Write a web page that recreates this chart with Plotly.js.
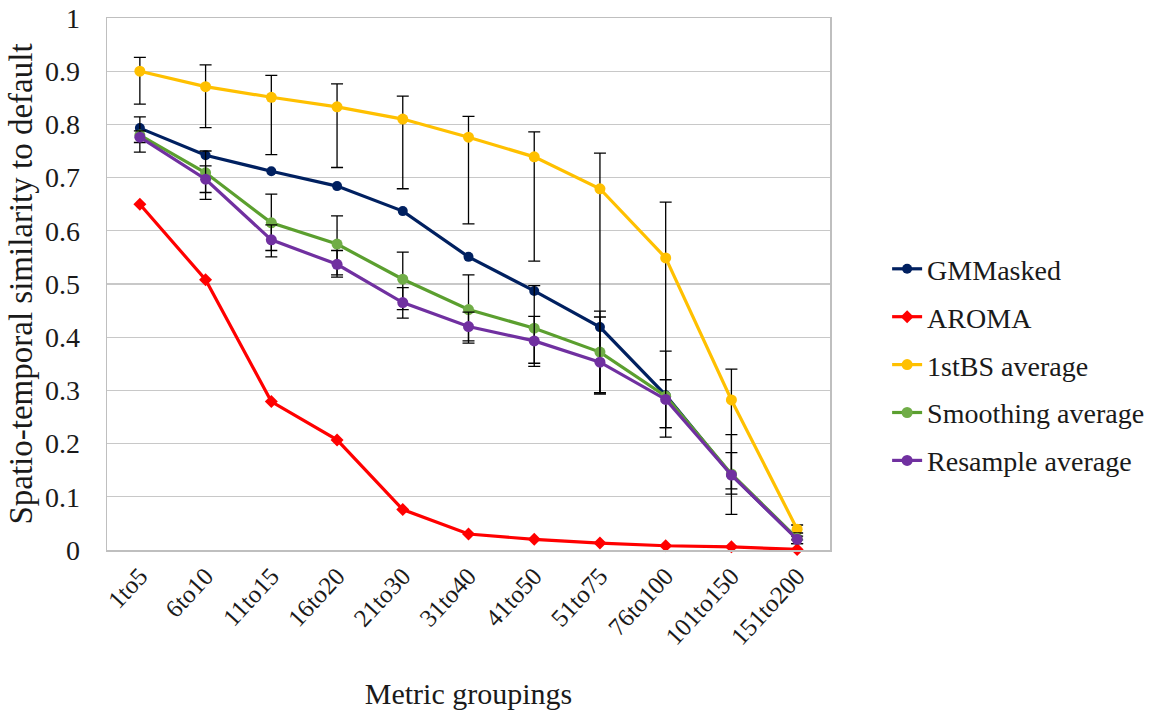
<!DOCTYPE html>
<html>
<head>
<meta charset="utf-8">
<script src="https://cdn.plot.ly/plotly-3.0.1.min.js"></script>
<style>html,body{margin:0;padding:0;background:#fff;}#chart{width:1163px;height:713px;}</style>
</head>
<body>
<div id="chart"></div>
<script>
var categories = ["1to5","6to10","11to15","16to20","21to30","31to40","41to50","51to75","76to100","101to150","151to200"];

var gmMasked = [0.793, 0.742, 0.712, 0.684, 0.637, 0.551, 0.487, 0.419, 0.291, 0.141, 0.021];
var aroma = [0.650, 0.508, 0.279, 0.207, 0.076, 0.030, 0.020, 0.013, 0.008, 0.006, 0.001];

var firstBS = [0.900, 0.871, 0.851, 0.833, 0.810, 0.776, 0.739, 0.679, 0.549, 0.282, 0.039];
var firstBSPlus = [0.026, 0.041, 0.041, 0.043, 0.043, 0.039, 0.047, 0.067, 0.105, 0.058, 0.008];
var firstBSMinus = [0.062, 0.077, 0.108, 0.114, 0.131, 0.163, 0.196, 0.384, 0.337, 0.215, 0.020];

var smoothing = [0.780, 0.709, 0.615, 0.575, 0.509, 0.452, 0.417, 0.372, 0.289, 0.143, 0.022];
var smoothingPlus = [0.034, 0.041, 0.054, 0.053, 0.051, 0.065, 0.080, 0.077, 0.085, 0.074, 0.010];
var smoothingMinus = [0.032, 0.050, 0.052, 0.058, 0.057, 0.063, 0.072, 0.079, 0.059, 0.038, 0.010];

var resample = [0.776, 0.697, 0.583, 0.537, 0.465, 0.420, 0.393, 0.353, 0.283, 0.141, 0.020];
var resamplePlus = [0.012, 0.025, 0.028, 0.026, 0.028, 0.027, 0.046, 0.085, 0.037, 0.042, 0.006];
var resampleMinus = [0.010, 0.025, 0.032, 0.024, 0.029, 0.027, 0.042, 0.057, 0.053, 0.026, 0.008];

var FONT = "Liberation Serif";
var TXT = "#1a1a1a";

function errY(plus, minus) {
  return {type: "data", symmetric: false, array: plus, arrayminus: minus,
          color: "#000000", thickness: 1.3, width: 6};
}

var traces = [
  {name: "GMMasked", x: categories, y: gmMasked, mode: "lines+markers", legendgroup: "a",
   line: {color: "#002060", width: 3.2}, marker: {color: "#002060", size: 10, symbol: "circle"}, cliponaxis: false},
  {name: "AROMA", x: categories, y: aroma, mode: "lines+markers", legendgroup: "b",
   line: {color: "#FF0000", width: 3.2}, marker: {color: "#FF0000", size: 10, symbol: "diamond"}, cliponaxis: false},
  {name: "1stBS average", x: categories, y: firstBS, mode: "lines+markers", legendgroup: "c",
   line: {color: "#FFC000", width: 3.2}, marker: {color: "#FFC000", size: 11, symbol: "circle"},
   error_y: errY(firstBSPlus, firstBSMinus), cliponaxis: false},
  {name: "Smoothing average", x: categories, y: smoothing, mode: "lines+markers", legendgroup: "d",
   line: {color: "#5B9F2F", width: 3.2}, marker: {color: "#70AD47", size: 11, symbol: "circle"},
   error_y: errY(smoothingPlus, smoothingMinus), cliponaxis: false},
  {name: "Resample average", x: categories, y: resample, mode: "lines+markers", legendgroup: "e",
   line: {color: "#7030A0", width: 3.2}, marker: {color: "#7030A0", size: 11, symbol: "circle"},
   error_y: errY(resamplePlus, resampleMinus), cliponaxis: false}
];

var layout = {
  width: 1163, height: 713,
  margin: {l: 107, r: 333, t: 18, b: 163},
  paper_bgcolor: "#ffffff", plot_bgcolor: "#ffffff",
  font: {family: FONT, size: 28, color: TXT},
  showlegend: true,
  legend: {x: 1.079, y: 0.575, xanchor: "left", yanchor: "top",
           font: {family: FONT, size: 28, color: TXT}, tracegroupgap: 8.5,
           bgcolor: "rgba(0,0,0,0)"},
  xaxis: {
    type: "category", range: [-0.5, 10.5],
    tickangle: -47, tickfont: {family: FONT, size: 25, color: TXT},
    showgrid: false, showline: true, linecolor: "#BFBFBF", linewidth: 1.5, mirror: true,
    ticks: "", zeroline: false, automargin: false,
    title: {text: "Metric groupings", font: {family: FONT, size: 30, color: TXT}, standoff: 34}
  },
  yaxis: {
    range: [0, 1], dtick: 0.1, tick0: 0,
    tickfont: {family: FONT, size: 28, color: TXT},
    showgrid: true, gridcolor: "#C8C8C8", gridwidth: 1.3,
    showline: true, linecolor: "#BFBFBF", linewidth: 1.5, mirror: true,
    ticks: "", zeroline: false, ticklabelstandoff: 20, automargin: false,
    title: {text: "Spatio-temporal similarity to default", font: {family: FONT, size: 33, color: TXT}, standoff: 2}
  }
};

Plotly.newPlot("chart", traces, layout, {displayModeBar: false, staticPlot: true});
</script>
</body>
</html>
